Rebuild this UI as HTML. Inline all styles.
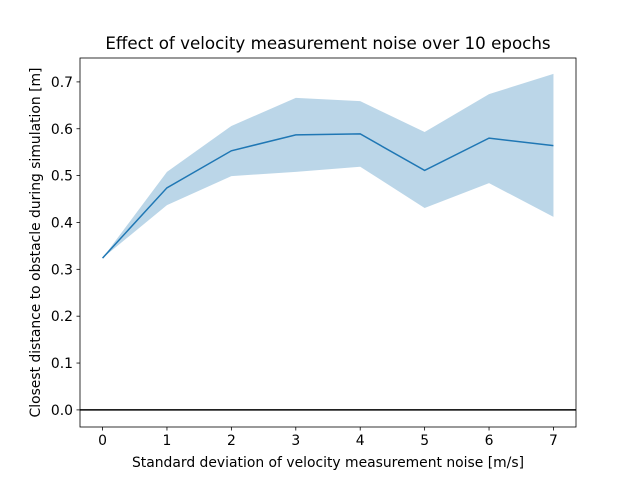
<!DOCTYPE html>
<html><head><meta charset="utf-8"><style>body{margin:0;background:#fff}svg{display:block;font-family:"DejaVu Sans","Liberation Sans",sans-serif}</style></head>
<body>
<svg id="chart" width="640" height="480" xmlns="http://www.w3.org/2000/svg"></svg>
<script>
const categories=[0,1,2,3,4,5,6,7];
const meanValues=[0.324,0.474,0.553,0.587,0.589,0.511,0.580,0.564];
const upperValues=[0.324,0.508,0.606,0.666,0.659,0.593,0.674,0.717];
const lowerValues=[0.324,0.437,0.499,0.508,0.519,0.431,0.484,0.412];
const yTicks=[0.0,0.1,0.2,0.3,0.4,0.5,0.6,0.7];
const xTicks=[0,1,2,3,4,5,6,7];
const L=80,R=576,T=58,B=427;
const xMin=-0.35,xMax=7.35,yMin=-0.0365,yMax=0.751;
const sx=v=>L+(v-xMin)/(xMax-xMin)*(R-L);
const sy=v=>B-(v-yMin)/(yMax-yMin)*(B-T);
const svg=document.getElementById('chart');
const NS='http://www.w3.org/2000/svg';
function mk(tag,attrs,name){const e=document.createElementNS(NS,tag);for(const k in attrs)e.setAttribute(k,attrs[k]);


svg.appendChild(e);return e;}
let pts=categories.map((c,i)=>sx(c)+','+sy(upperValues[i]));
pts=pts.concat(categories.map((c,i)=>sx(c)+','+sy(lowerValues[i])).reverse());
mk('polygon',{points:pts.join(' '),fill:'#1f77b4','fill-opacity':0.3},'std-band');
mk('polyline',{points:categories.map((c,i)=>sx(c)+','+sy(meanValues[i])).join(' '),fill:'none',stroke:'#1f77b4','stroke-width':1.5},'mean-line');
mk('line',{x1:L,x2:R,y1:sy(0),y2:sy(0),stroke:'#000','stroke-width':1.5},'zero-line');
mk('rect',{x:L,y:T,width:R-L,height:B-T,fill:'none',stroke:'#000','stroke-width':0.8},'plot-frame');
xTicks.forEach(t=>{const x=sx(t);
mk('line',{x1:x,x2:x,y1:B,y2:B+3.5,stroke:'#000','stroke-width':0.8},'x-tick');
const tx=mk('text',{x:x,y:B+18,'font-size':13.9,'text-anchor':'middle'},'x-tick-label');tx.textContent=t;});
yTicks.forEach(t=>{const y=sy(t);
mk('line',{x1:L-3.5,x2:L,y1:y,y2:y,stroke:'#000','stroke-width':0.8},'y-tick');
const tx=mk('text',{x:L-7,y:y+5,'font-size':13.9,'text-anchor':'end'},'y-tick-label');tx.textContent=t.toFixed(1);});
let e=mk('text',{x:(L+R)/2,y:467,'font-size':13.9,'text-anchor':'middle'},'x-axis-title');e.textContent='Standard deviation of velocity measurement noise [m/s]';
e=mk('text',{x:40,y:(T+B)/2,'font-size':13.9,'text-anchor':'middle',transform:`rotate(-90 40 ${(T+B)/2})`},'y-axis-title');e.textContent='Closest distance to obstacle during simulation [m]';
e=mk('text',{x:(L+R)/2,y:49,'font-size':16.7,'text-anchor':'middle'},'chart-title');e.textContent='Effect of velocity measurement noise over 10 epochs';
</script>
</body></html>
